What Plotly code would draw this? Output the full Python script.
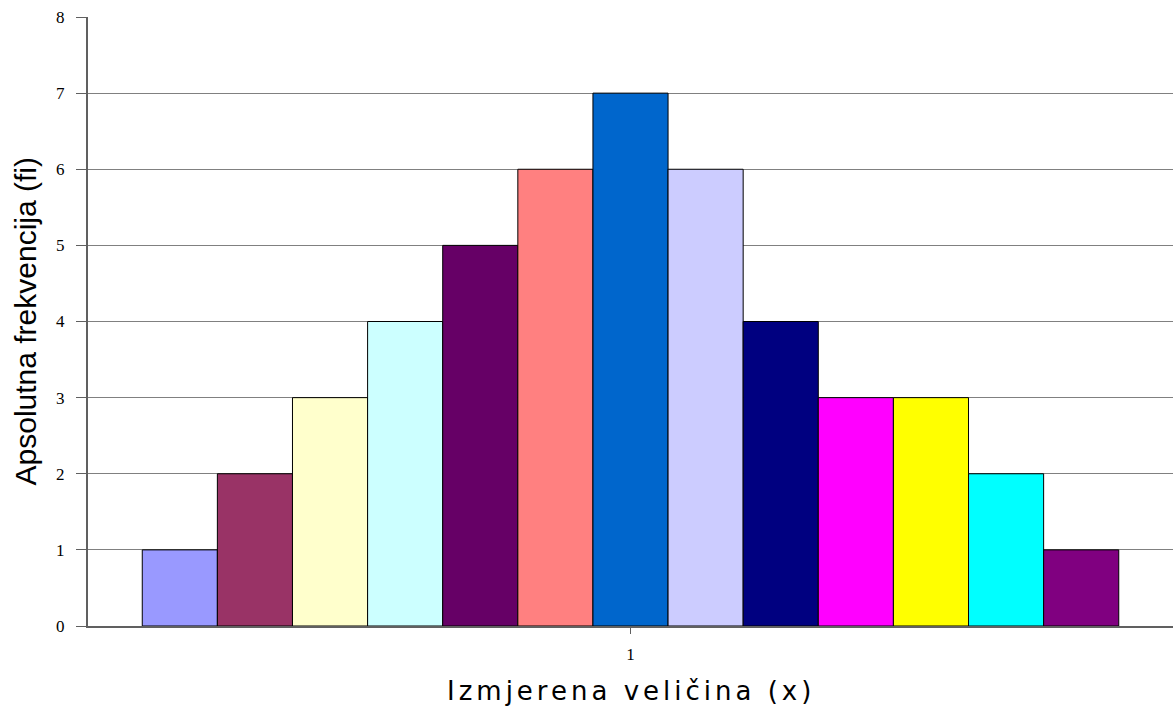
import plotly.graph_objects as go

category = ["1"]
values = [1, 2, 3, 4, 5, 6, 7, 6, 4, 3, 3, 2, 1]
colors = ["#9999FF", "#993366", "#FFFFCC", "#CCFFFF", "#660066", "#FF8080", "#0066CC",
          "#CCCCFF", "#000080", "#FF00FF", "#FFFF00", "#00FFFF", "#800080"]
y_ticks = [0, 1, 2, 3, 4, 5, 6, 7, 8]
x_title = "Izmjerena veličina (x)"
y_title = "Apsolutna frekvencija (fi)"

fig = go.Figure()
for i, (v, c) in enumerate(zip(values, colors)):
    fig.add_trace(go.Bar(x=category, y=[v], name=f"S{i+1}",
                         marker=dict(color=c, line=dict(color="black", width=1))))

fig.update_layout(
    width=1173, height=706,
    margin=dict(l=88, r=0, t=17, b=80),
    paper_bgcolor="white", plot_bgcolor="white",
    barmode="group", bargap=0.1, bargroupgap=0,
    showlegend=False,
    font=dict(family="Liberation Serif", color="black"),
)
fig.update_yaxes(
    range=[0, 8], tickvals=y_ticks, showgrid=True, gridcolor="#808080", gridwidth=1.3,
    showline=True, linecolor="#606060", linewidth=2, ticks="outside", ticklen=10, tickcolor="#606060",
    tickfont=dict(family="Liberation Serif", size=17, color="black"), ticklabelstandoff=8,
    zeroline=False, automargin=False,
)
fig.update_xaxes(
    type="category", showline=True, linecolor="#606060", linewidth=2,
    ticks="outside", ticklen=6, tickcolor="#606060",
    tickfont=dict(family="Liberation Serif", size=17, color="black"), ticklabelstandoff=6,
    automargin=False,
)
fig.add_annotation(text=y_title, xref="paper", yref="paper", x=0, y=0.5, xshift=-63,
                   xanchor="center", yanchor="middle", textangle=-90, showarrow=False,
                   font=dict(family="Liberation Sans", size=30, color="black"))
fig.add_annotation(text=x_title, xref="paper", yref="paper", x=0.5, y=0, yshift=-65,
                   xanchor="center", yanchor="middle", showarrow=False,
                   font=dict(family="DejaVu Sans", size=26, color="black"))

post = """
document.body.style.margin='0';
document.body.style.overflow='hidden';
var ts = document.querySelectorAll('.annotation-text');
ts.forEach(function(t){ if (t.textContent.indexOf('Izmjerena') === 0) { t.style.letterSpacing='4px'; } });
"""
fig.write_html("out.html", post_script=post, config={"displayModeBar": False})
